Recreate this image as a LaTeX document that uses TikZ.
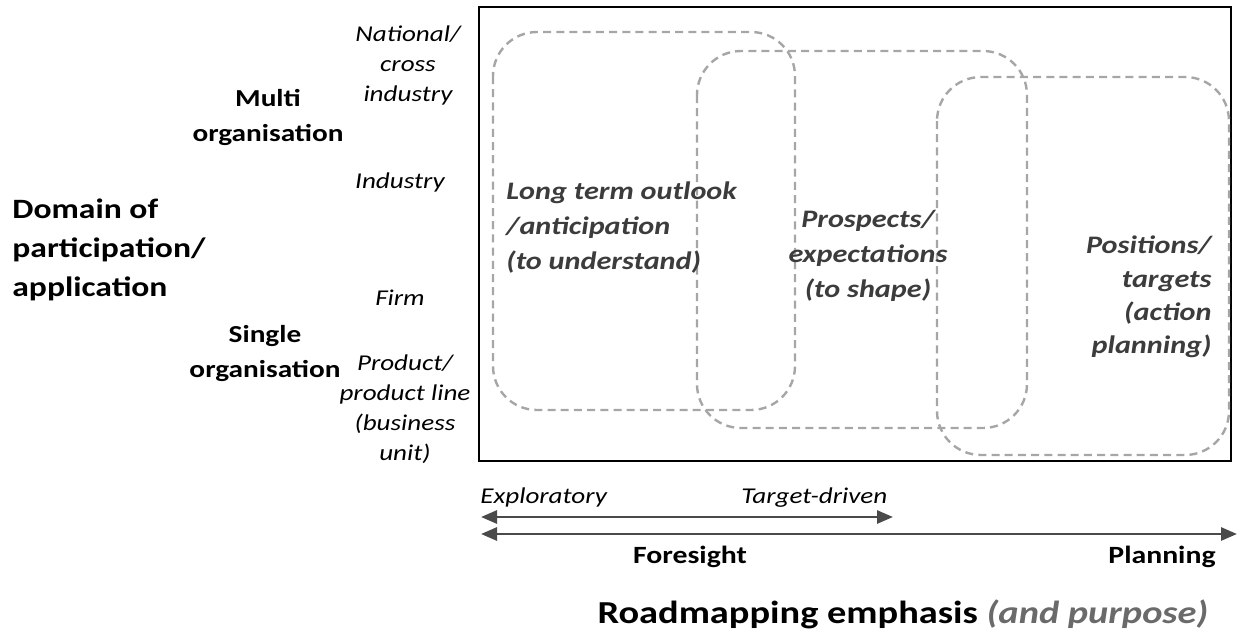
\documentclass[tikz,border=0pt]{standalone}
\usepackage{fontspec}
\setmainfont{Carlito}[FakeStretch=1.2]
\usetikzlibrary{arrows.meta}
\definecolor{dashgray}{HTML}{A6A6A6}
\definecolor{labgray}{HTML}{3C3C3C}
\definecolor{arrgray}{HTML}{4A4A4A}
\definecolor{purpgray}{HTML}{6A6A6A}
\newcommand{\fsz}[2]{\fontsize{#1}{#2}\selectfont}
\tikzset{
  lbl/.style={inner sep=0pt, align=center},
  axisbold/.style={lbl, font=\bfseries\fsz{14}{19.5}},
  grpbold/.style={lbl, font=\bfseries\fsz{12.2}{17.5}},
  small/.style={lbl, font=\itshape\fsz{11.3}{15}},
  inlbl/.style={lbl, text=labgray, font=\bfseries\itshape\fsz{12.6}{17.5}},
  zone/.style={draw=dashgray, line width=1.2pt, dash pattern=on 4pt off 2.6pt, rounded corners=22pt},
  dbl/.style={draw=arrgray, line width=1.4pt, {Triangle[length=8pt,width=6.5pt]}-{Triangle[length=8pt,width=6.5pt]}},
}
\begin{document}
\begin{tikzpicture}[x=0.5pt, y=-0.5pt]
\useasboundingbox (0,0) rectangle (1239,633);
% main frame
\draw[line width=1.3pt] (479,7) rectangle (1231,461);
% zones
\draw[zone] (493,32) rectangle (795,410);
\draw[zone] (697,51) rectangle (1027,428);
\draw[zone] (937,77) rectangle (1229,455);
% left side labels
\node[small] (national) at (408,65) {National/\\cross\\industry};
\node[grpbold] (multi) at (268,117) {Multi\\organisation};
\node[small] (industry) at (400,182) {Industry};
\node[axisbold, anchor=west, align=left] (domain) at (12,250) {Domain of\\participation/\\application};
\node[small] (firm) at (400,298) {Firm};
\node[grpbold] (single) at (265,354) {Single\\organisation};
\node[small] (product) at (405,409) {Product/\\product line\\(business\\unit)};
% inside labels
\node[inlbl, anchor=west, align=left] (longterm) at (506,228) {Long term outlook\\/anticipation\\(to understand)};
\node[inlbl] (prospects) at (868,256) {Prospects/\\expectations\\(to shape)};
\node[inlbl, anchor=east, align=right, font=\bfseries\itshape\fsz{12.6}{16.7}] (positions) at (1212,297) {Positions/\\targets\\(action\\planning)};
% bottom axis
\coordinate (a1) at (481,517);
\coordinate (a2) at (893,517);
\coordinate (b1) at (481,534);
\coordinate (b2) at (1237,534);
\draw[dbl] (a1) -- (a2);
\draw[dbl] (b1) -- (b2);
\node[lbl, anchor=base west, font=\itshape\fsz{11.3}{14}] (explor) at (480,503) {Exploratory};
\node[lbl, anchor=base west, font=\itshape\fsz{11.3}{14}] (target) at (741,503) {Target-driven};
\node[lbl, anchor=base, font=\bfseries\fsz{12.4}{15}] (foresight) at (690,563) {Foresight};
\node[lbl, anchor=base, font=\bfseries\fsz{12.4}{15}] (planning) at (1162,563) {Planning};
\node[lbl, anchor=base, font=\bfseries\fsz{16}{19}] (roadmap) at (903,623) {Roadmapping emphasis \textcolor{purpgray}{\itshape(and purpose)}};
\end{tikzpicture}
\end{document}
